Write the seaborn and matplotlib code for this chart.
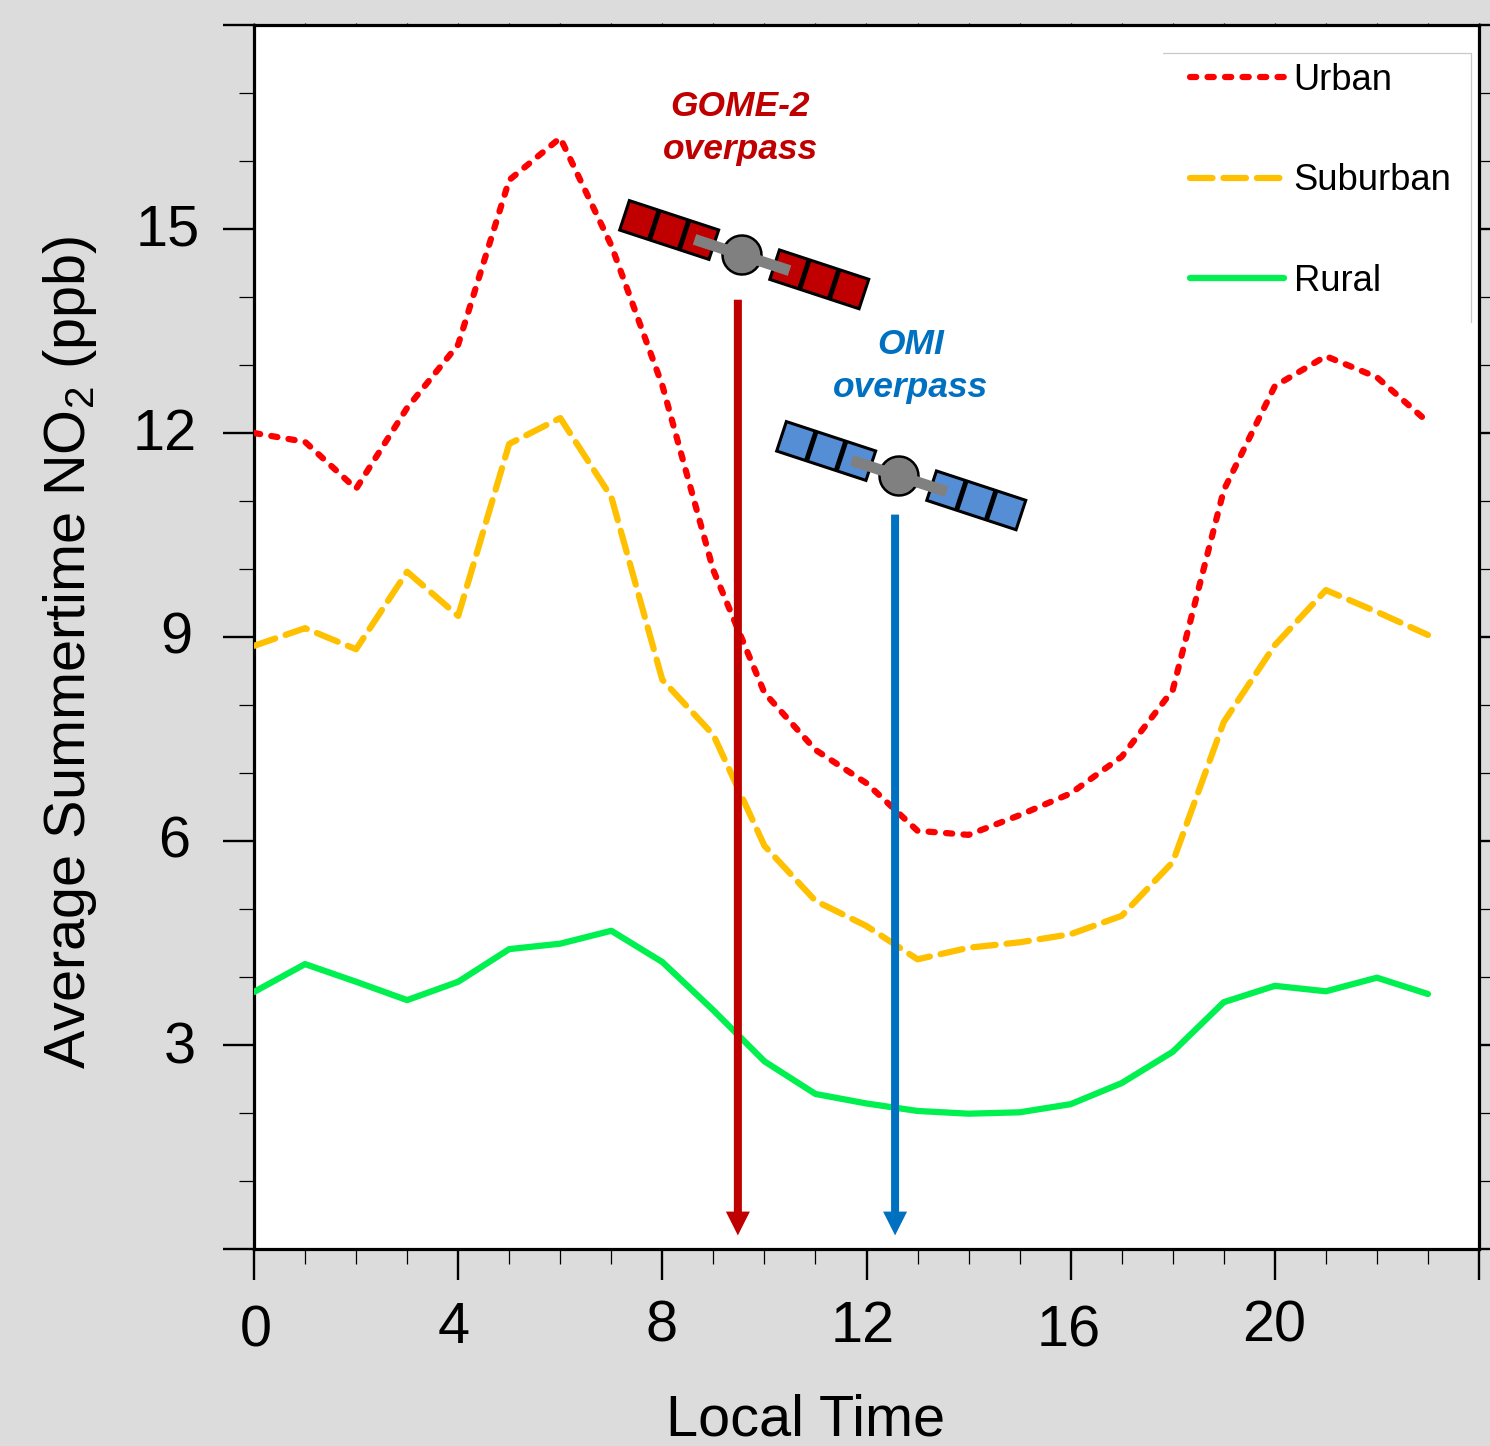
import numpy as np
import pandas as pd
import matplotlib
matplotlib.use('Agg')
import matplotlib.pyplot as plt
import seaborn as sns
from matplotlib.patches import Rectangle, Circle
from matplotlib.transforms import Affine2D, ScaledTranslation
from matplotlib.ticker import MultipleLocator

hours = list(range(24))
urban = [12.0, 11.87, 11.18, 12.37, 13.3, 15.72, 16.34, 14.76, 12.7, 9.98, 8.18, 7.34,
         6.85, 6.15, 6.09, 6.38, 6.7, 7.24, 8.22, 11.16, 12.69, 13.13, 12.82, 12.16]
suburban = [8.87, 9.13, 8.82, 9.96, 9.31, 11.84, 12.22, 11.06, 8.37, 7.56, 5.93, 5.12,
            4.75, 4.26, 4.43, 4.51, 4.63, 4.9, 5.69, 7.75, 8.88, 9.69, 9.37, 9.03]
rural = [3.78, 4.19, 3.93, 3.66, 3.93, 4.41, 4.49, 4.68, 4.22, 3.51, 2.76, 2.28,
         2.14, 2.03, 1.99, 2.01, 2.13, 2.44, 2.9, 3.63, 3.87, 3.79, 3.99, 3.75]
series_names = ['Urban', 'Suburban', 'Rural']
x_ticks = [0, 4, 8, 12, 16, 20]
y_ticks = [3, 6, 9, 12, 15]

W, H = 1490, 1446
BG = '#DCDCDC'
RED = '#C00000'
BLUE = '#0070C0'

sns.set_style('ticks', {'text.color': 'black', 'axes.labelcolor': 'black',
                        'xtick.color': 'black', 'ytick.color': 'black'})
plt.rcParams['font.family'] = ['Liberation Sans', 'DejaVu Sans']
plt.rcParams['mathtext.fontset'] = 'custom'
plt.rcParams['mathtext.rm'] = 'Liberation Sans'
plt.rcParams['mathtext.default'] = 'regular'

df = pd.DataFrame({
    'hour': hours * 3,
    'no2': urban + suburban + rural,
    'site': np.repeat(series_names, len(hours)),
})

fig = plt.figure(figsize=(W / 100, H / 100), dpi=100, facecolor=BG)
ax = fig.add_axes([254 / W, 1 - 1249 / H, (1479 - 254) / W, (1249 - 25) / H])

sns.lineplot(data=df, x='hour', y='no2', hue='site', style='site', ax=ax,
             hue_order=series_names, style_order=series_names,
             palette={'Urban': '#FF0000', 'Suburban': '#FFC000', 'Rural': '#00F050'},
             dashes={'Urban': (1.0, 1.8), 'Suburban': (3.6, 1.75), 'Rural': ''},
             linewidth=4.5, errorbar=None, legend=False,
             dash_capstyle='round', solid_capstyle='round', dash_joinstyle='round', zorder=3)

ax.set_xlim(0, 24)
ax.set_ylim(0, 18)
ax.set_facecolor('white')
for s in ax.spines.values():
    s.set_linewidth(2.3)
    s.set_color('black')

ax.xaxis.set_major_locator(MultipleLocator(4))
ax.xaxis.set_minor_locator(MultipleLocator(1))
ax.yaxis.set_major_locator(MultipleLocator(3))
ax.yaxis.set_minor_locator(MultipleLocator(1))
ax.tick_params(which='major', direction='out', length=22.5, width=1.7, right=True,
               labelsize=41.5, pad=12)
ax.tick_params(which='minor', direction='out', length=11, width=0.9, right=True)
ax.set_xticks(x_ticks + [24])
ax.set_xticklabels([str(t) for t in x_ticks] + [''])
ax.set_yticks([0] + y_ticks + [18])
ax.set_yticklabels([''] + [str(t) for t in y_ticks] + [''])

# the top edge only has tiny nubs
top = ax.secondary_xaxis('top')
top.xaxis.set_major_locator(MultipleLocator(1))
top.tick_params(which='major', direction='out', length=1.5, width=0.9, labeltop=False)
top.spines['top'].set_visible(False)

# hand nudges for the tick labels, the original ones were not aligned (pixels)
x_nudge = [(2, -8), (-4, -4), (-1, -3), (-4, -3), (-2, -8), (-1, -3)]
for lab, (dx, dy) in zip(ax.get_xticklabels(), x_nudge):
    lab.set_transform(lab.get_transform() + ScaledTranslation(dx / 100, dy / 100, fig.dpi_scale_trans))
y_nudge = [(-10, 3), (-16, 4), (-14, 5), (-9, 4), (-6, 5)]
for lab, (dx, dy) in zip(ax.get_yticklabels()[1:], y_nudge):
    lab.set_transform(lab.get_transform() + ScaledTranslation(dx / 100, dy / 100, fig.dpi_scale_trans))

ax.set_xlabel('Local Time', fontsize=41.5)
ax.xaxis.set_label_coords((806 - 254) / 1225, -(1435 - 1249) / 1224)
ax.xaxis.label.set_verticalalignment('baseline')
ax.set_ylabel('Average Summertime NO$_2$ (ppb)', fontsize=41.5)
ax.yaxis.set_label_coords(-(254 - 70) / 1225, (1249 - 652) / 1224)
ax.yaxis.label.set_verticalalignment('center')


def satellite(cx, cy, color):
    # pixel geometry from the reference, flipped into figure fraction
    tr = (Affine2D().rotate_deg(-18.2).translate(cx, H - cy)
          .scale(1 / W, 1 / H) + fig.transFigure)
    for x0 in (-124, 34):
        panel = Rectangle((x0, -14.5), 94, 31, fc=color, ec='black', lw=2.2, transform=tr, zorder=5)
        fig.add_artist(panel)
        for k in (1, 2):
            x_d = x0 + 94 * k / 3
            fig.add_artist(plt.Line2D([x_d, x_d], [-14.5, 16.5], color='black', lw=3.6,
                                      solid_capstyle='butt', transform=tr, zorder=5))
    fig.add_artist(Circle((0, 0), 19.5, fc='#808080', ec='black', lw=1.8, transform=tr, zorder=6))
    fig.add_artist(Rectangle((-50, -5.5), 100, 11, fc='#808080', ec='none', transform=tr, zorder=7))


satellite(742, 255, RED)
satellite(899, 476, '#558ED5')

# overpass arrows
ax.arrow(9.48, 13.96, 0, -13.76, width=0.157, head_width=0.47, head_length=0.35,
         length_includes_head=True, fc=RED, ec='none', zorder=4)
ax.arrow(12.56, 10.8, 0, -10.6, width=0.157, head_width=0.47, head_length=0.35,
         length_includes_head=True, fc=BLUE, ec='none', zorder=4)

label_font = dict(fontsize=25.5, style='italic', weight='bold', ha='center', va='center')
fig.text(740 / W, 1 - 107 / H, 'GOME-2', color=RED, **label_font)
fig.text(740 / W, 1 - 150 / H, 'overpass', color=RED, **label_font)
fig.text(911 / W, 1 - 345 / H, 'OMI', color=BLUE, **label_font)
fig.text(910 / W, 1 - 388 / H, 'overpass', color=BLUE, **label_font)

# legend: only the top and right edges of its box show
fig.add_artist(plt.Line2D([1163 / W, 1471 / W, 1471 / W], [1 - 53 / H, 1 - 53 / H, 1 - 322 / H],
                          color='#C8C8C8', lw=0.9))
ax.legend(ax.lines[:3], series_names, loc='upper left',
          bbox_to_anchor=((1190 - 254) / 1225, 1 - (63 - 25) / 1224),
          frameon=False, fontsize=26.2, borderpad=0, borderaxespad=0, handlelength=2.58,
          handletextpad=0.27, labelspacing=1.8)

fig.savefig('out.png', dpi=100, facecolor=BG)
